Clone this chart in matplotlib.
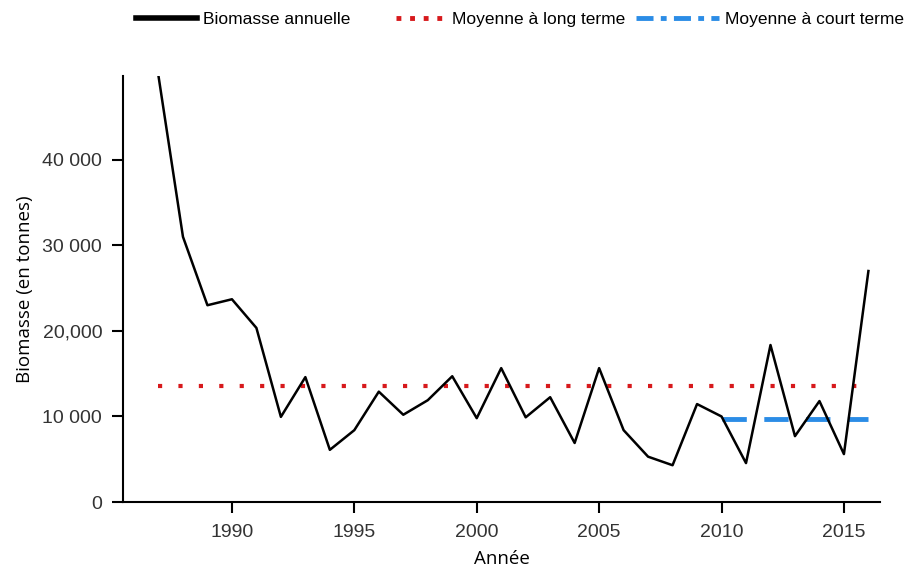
import matplotlib.pyplot as plt
from matplotlib.ticker import FixedLocator
from matplotlib.lines import Line2D

annees = list(range(1987, 2017))
biomasse = [49800, 31000, 23000, 23700, 20350, 9950, 14600, 6100, 8400, 12900,
            10200, 11900, 14700, 9800, 15650, 9900, 12250, 6900, 15650, 8400,
            5300, 4300, 11450, 10000, 4550, 18350, 7700, 11800, 5600, 27000]

moy_long = 13600
moy_long_annees = [1987, 2016]
moy_court = 9700
moy_court_annees = [2010, 2016]

yticks = [0, 10000, 20000, 30000, 40000]
ytick_labels = ["0", "10 000", "20,000", "30 000", "40 000"]
xticks = [1990, 1995, 2000, 2005, 2010, 2015]

rouge = '#d7191c'
bleu = '#2b8ce6'
dots = (0, (1, 3.9))
dashes = (0, (5, 3.6))

fig = plt.figure(figsize=(9.09, 5.71), dpi=100)
ax = fig.add_axes([0.1353, 0.1208, 0.8327, 0.7462])

ax.plot(annees, biomasse, color='black', linewidth=1.8, zorder=3)
ax.plot(moy_long_annees, [moy_long] * 2, color=rouge, linewidth=3,
        linestyle=dots, zorder=2)
ax.plot(moy_court_annees, [moy_court] * 2, color=bleu, linewidth=3.5,
        linestyle=dashes, zorder=2)

ax.set_xlim(1985.55, 2016.47)
ax.set_ylim(0, 49800)
ax.yaxis.set_major_locator(FixedLocator(yticks))
ax.set_yticklabels(ytick_labels, fontsize=14, family='Liberation Sans', color='#333333')
ax.set_xticks(xticks)
ax.set_xticklabels([str(x) for x in xticks], fontsize=14, family='Liberation Sans', color='#333333')
ax.tick_params(direction='out', length=8, width=1.5)
ax.tick_params(axis='x', pad=8)
ax.tick_params(axis='y', pad=7)

for s in ['top', 'right']:
    ax.spines[s].set_visible(False)
for s in ['left', 'bottom']:
    ax.spines[s].set_linewidth(1.5)

ax.set_xlabel("Année", fontsize=13.5, family='Open Sans', labelpad=6)
ax.set_ylabel("Biomasse (en tonnes)", fontsize=13.5, family='Open Sans', labelpad=6)

# legend: three separate entries, placed like in the reference
entrees = [
    (Line2D([], [], color='black', linewidth=4), "Biomasse annuelle", 136, 3.5),
    (Line2D([], [], color=rouge, linewidth=3.5, linestyle=(0, (1, 1.8))), "Moyenne à long terme", 396, 2.9),
    (Line2D([], [], color=bleu, linewidth=3.5, linestyle=(0, (3.5, 1.5, 1.2, 1.5))), "Moyenne à court terme", 636, 4.8),
]
for h, lab, xpx, hl in entrees:
    fig.legend([h], [lab], loc='center left', bbox_to_anchor=(xpx / 909, 1 - 19 / 571),
               frameon=False, borderpad=0, borderaxespad=0, handlelength=hl,
               handletextpad=0.35, prop={'family': 'Liberation Sans', 'size': 12.5})

fig.savefig('out.png', dpi=100)
